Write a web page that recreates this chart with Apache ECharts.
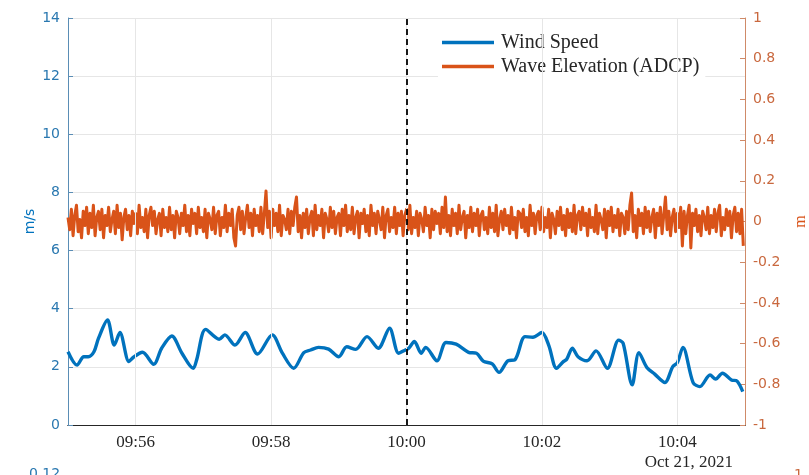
<!DOCTYPE html>
<html><head><meta charset="utf-8">
<script src="https://cdn.jsdelivr.net/npm/echarts@6/dist/echarts.min.js"></script>
<style>html,body{margin:0;padding:0;background:#fff}#c{width:809px;height:475px}</style>
</head><body><div id="c"></div>
<script>
// ---- data ----
const windTimes = ['09:55:00','09:55:08','09:55:14','09:55:18','09:55:23','09:55:27','09:55:35','09:55:41','09:55:46','09:55:54','09:55:58',
'09:56:06','09:56:16','09:56:23','09:56:32','09:56:41','09:56:51','09:56:54','09:57:02','09:57:14','09:57:19','09:57:28','09:57:37','09:57:48',
'09:58:01','09:58:10','09:58:20','09:58:29','09:58:35','09:58:42','09:58:51','09:59:00','09:59:07','09:59:15','09:59:25','09:59:35','09:59:45','09:59:53','09:59:59',
'10:00:02','10:00:07','10:00:13','10:00:17','10:00:27','10:00:35','10:00:44','10:00:55','10:01:02','10:01:08','10:01:16','10:01:22','10:01:30','10:01:36','10:01:45','10:01:52',
'10:02:00','10:02:06','10:02:13','10:02:19','10:02:22','10:02:27','10:02:32','10:02:40','10:02:48','10:02:58','10:03:08','10:03:12','10:03:20','10:03:26','10:03:33','10:03:40','10:03:49','10:03:56',
'10:04:00','10:04:05','10:04:14','10:04:20','10:04:29','10:04:34','10:04:40','10:04:48','10:04:53','10:04:58'];
const windSpeed = [2.52,2.06,2.35,2.35,2.52,2.98,3.61,2.75,3.18,2.18,2.33,
2.50,2.09,2.64,3.06,2.47,1.95,2.24,3.29,2.95,3.10,2.75,3.18,2.44,
3.10,2.47,1.95,2.49,2.58,2.67,2.61,2.35,2.69,2.60,3.04,2.64,3.33,2.47,2.58,
2.64,2.87,2.47,2.67,2.21,2.84,2.78,2.50,2.47,2.20,2.10,1.81,2.21,2.24,3.04,3.02,
3.18,2.75,1.95,2.18,2.26,2.64,2.35,2.21,2.55,1.95,2.92,2.81,1.38,2.49,1.98,1.75,1.46,2.01,
2.14,2.67,1.46,1.32,1.72,1.58,1.78,1.55,1.51,1.15];

const waveStart = '09:55:00';
const waveStepSeconds = 1.5;
const waveElevation = [
0.02,-0.04,0.06,-0.07,0.03,0.08,-0.05,0.01,-0.08,0.05,-0.02,0.07,-0.06,0.04,-0.03,0.08,-0.07,0.02,0.05,-0.04,
0.06,-0.08,0.03,-0.02,0.07,-0.05,0.01,0.05,-0.06,0.08,-0.03,0.04,-0.09,0.02,0.06,-0.04,0.03,-0.07,0.05,-0.01,
0.04,-0.06,0.08,-0.03,0.02,-0.05,0.06,-0.08,0.03,0.07,-0.02,0.05,-0.06,0.01,0.04,-0.07,0.06,-0.03,0.02,-0.05,
0.07,-0.04,0.03,-0.08,0.05,0.02,-0.06,0.04,-0.02,0.08,-0.05,0.03,-0.07,0.06,-0.01,0.04,-0.06,0.07,-0.03,0.02,
-0.05,0.06,-0.08,0.04,0.01,-0.04,0.07,-0.06,0.03,0.05,-0.07,0.02,-0.03,0.08,-0.05,0.04,-0.02,0.06,-0.08,-0.12,
0.03,0.07,-0.04,0.05,-0.06,0.02,0.08,-0.03,0.04,-0.07,0.06,-0.02,0.03,-0.05,0.07,-0.06,0.04,0.15,-0.03,0.05,
-0.08,0.06,-0.02,0.04,-0.05,0.08,-0.07,0.03,0.01,-0.04,0.06,-0.06,0.05,-0.02,0.07,0.12,-0.05,0.03,-0.08,0.04,
-0.03,0.06,-0.06,0.02,0.05,-0.07,0.08,-0.04,0.03,-0.02,0.06,-0.08,0.04,0.01,-0.05,0.07,-0.03,0.05,-0.06,0.02,
0.04,-0.07,0.06,-0.02,0.08,-0.05,0.03,-0.04,0.07,-0.06,0.02,0.05,-0.08,0.04,-0.01,0.06,-0.05,0.03,-0.07,0.08,
-0.02,0.04,-0.06,0.05,0.01,-0.04,0.07,-0.08,0.03,0.06,-0.05,0.02,-0.03,0.07,-0.06,0.04,-0.02,0.05,-0.07,0.03,
0.06,-0.04,0.08,-0.06,0.02,-0.03,0.05,-0.07,0.04,0.01,-0.05,0.07,-0.02,0.03,-0.08,0.06,-0.04,0.05,-0.01,0.04,
-0.06,0.07,-0.03,0.12,-0.05,0.03,-0.07,0.06,-0.02,0.04,-0.06,0.08,-0.04,0.02,0.05,-0.08,0.03,-0.03,0.07,-0.05,
0.04,-0.02,0.06,-0.07,0.03,0.05,-0.04,0.02,-0.06,0.07,-0.03,0.04,-0.05,0.08,-0.07,0.01,0.05,-0.04,0.06,-0.02,
0.03,-0.06,0.07,-0.04,0.02,-0.08,0.05,0.04,-0.03,0.06,-0.05,0.02,-0.07,0.08,-0.02,0.04,-0.06,0.03,0.05,-0.04,
0.07,-0.05,0.02,-0.03,0.06,-0.08,0.04,0.01,-0.06,0.05,-0.02,0.07,-0.04,0.03,-0.07,0.06,-0.03,0.04,-0.05,0.08,
-0.06,0.03,0.05,-0.04,0.07,-0.02,0.04,-0.07,0.06,-0.03,0.02,-0.05,0.08,-0.06,0.04,0.01,-0.04,0.06,-0.08,0.05,
-0.02,0.07,-0.05,0.03,-0.03,0.06,-0.07,0.04,0.02,-0.06,0.05,-0.04,0.08,0.14,-0.05,0.03,-0.08,0.06,-0.02,0.04,
-0.06,0.07,-0.03,0.05,-0.05,0.02,0.06,-0.08,0.04,-0.02,0.07,-0.06,0.03,0.12,-0.04,0.05,-0.07,0.02,0.06,-0.05,
0.04,-0.03,0.07,-0.12,0.05,-0.06,0.03,0.08,-0.13,0.04,-0.02,0.06,-0.05,0.03,-0.07,0.05,0.02,-0.04,0.07,-0.06,
0.03,-0.03,0.06,-0.05,0.04,0.08,-0.07,0.02,-0.04,0.06,-0.02,0.05,-0.08,0.03,0.07,-0.05,0.04,-0.06,0.06,-0.12];

const xRange = ['09:55:00','10:05:00'];
const xTickLabels = ['09:56','09:58','10:00','10:02','10:04'];
const eventTime = '10:00:00';
const dateLabel = 'Oct 21, 2021';
const seriesNames = ['Wind Speed','Wave Elevation (ADCP)'];
const leftAxisName = 'm/s';
const rightAxisName = 'm';
const cutOffLabels = ['0.12','1'];

// ---- helpers ----
function toSec(s){const p=s.split(':').map(Number);return p[0]*3600+p[1]*60+(p[2]||0);}
const tickSecs = xTickLabels.map(toSec);
const windData = windTimes.map((t,i)=>[toSec(t),windSpeed[i]]);
const w0 = toSec(waveStart);
const waveData = waveElevation.map((v,i)=>[w0+i*waveStepSeconds,v]);

const BLUE='#0072BD', ORANGE='#D95319';
const serif='Liberation Serif', sans='DejaVu Sans';

const chart = echarts.init(document.getElementById('c'),null,{renderer:'canvas'});
chart.setOption({
  animation:false,
  backgroundColor:'#fff',
  grid:{left:68,right:64,top:18,bottom:50,containLabel:false,outerBoundsMode:'none'},
  legend:{
    data:seriesNames, orient:'vertical', left:438, top:29, icon:'rect',
    itemWidth:52, itemHeight:3.5, itemGap:3,
    backgroundColor:'#fff', padding:[3,6,3,4],
    textStyle:{fontFamily:serif,fontSize:20,color:'#262626',lineHeight:21,padding:[0,0,0,2]}
  },
  xAxis:[{
    type:'value', min:toSec(xRange[0]), max:toSec(xRange[1]),
    axisLine:{show:true,onZero:false,lineStyle:{color:'#262626'}},
    axisTick:{show:true,inside:true,length:5,customValues:tickSecs,lineStyle:{color:'#262626'}},
    axisLabel:{customValues:tickSecs,margin:9,fontFamily:serif,fontSize:17,color:'#262626',
      formatter:v=>{const i=tickSecs.indexOf(v);return i>=0?xTickLabels[i]:'';}},
    splitLine:{show:false}
  },{
    type:'value', position:'top', min:toSec(xRange[0]), max:toSec(xRange[1]),
    axisLine:{show:true,lineStyle:{color:'#262626'}},axisTick:{show:false},axisLabel:{show:false},splitLine:{show:false}
  }],
  yAxis:[{
    type:'value', min:0, max:14, interval:2, position:'left',
    name:leftAxisName, nameLocation:'middle', nameGap:31, nameRotate:90, nameMoveOverlap:false,
    nameTextStyle:{fontFamily:sans,fontSize:14,color:BLUE},
    axisLine:{show:true,lineStyle:{color:'#5a8db5'}},
    axisTick:{show:true,inside:true,length:5,lineStyle:{color:'#5a8db5'}},
    axisLabel:{margin:8,fontFamily:sans,fontSize:14,color:'#2a78b0'},
    splitLine:{show:true,lineStyle:{color:'#e6e6e6',width:1}}
  },{
    type:'value', min:-1, max:1, interval:0.2, position:'right',
    name:rightAxisName, nameLocation:'middle', nameGap:48, nameRotate:90, nameMoveOverlap:false,
    nameTextStyle:{fontFamily:serif,fontSize:16,color:ORANGE},
    axisLine:{show:true,lineStyle:{color:'#cf8a68'}},
    axisTick:{show:true,inside:true,length:5,lineStyle:{color:'#cf8a68'}},
    axisLabel:{margin:8,fontFamily:sans,fontSize:14,color:'#c9683e',
      formatter:v=>String(Math.round(v*10)/10)},
    splitLine:{show:false}
  }],
  graphic:[
    {type:'text',right:76,top:454,style:{text:dateLabel,font:'17px "Liberation Serif"',fill:'#262626'}},
    {type:'text',left:29,top:467,style:{text:cutOffLabels[0],font:'14px "DejaVu Sans"',fill:'#2a78b0'}},
    {type:'text',left:794,top:468,style:{text:cutOffLabels[1],font:'14px "DejaVu Sans"',fill:'#c9683e'}}
  ],
  series:[
    {name:'_grid',type:'line',data:[],z:1,silent:true,
     markLine:{silent:true,symbol:'none',label:{show:false},animation:false,
       lineStyle:{color:'#e6e6e6',width:1,type:'solid'},
       data:tickSecs.map(s=>({xAxis:s}))}},
    {name:seriesNames[1],type:'line',yAxisIndex:1,data:waveData,showSymbol:false,z:2,
     lineStyle:{color:ORANGE,width:3,join:'round'},itemStyle:{color:ORANGE}},
    {name:seriesNames[0],type:'line',yAxisIndex:0,data:windData,showSymbol:false,smooth:0.3,z:3,
     lineStyle:{color:BLUE,width:3.4},itemStyle:{color:BLUE}},
    {name:'_event',type:'line',data:[],z:4,silent:true,
     markLine:{silent:true,symbol:'none',label:{show:false},animation:false,
       lineStyle:{color:'#000',width:1.8,type:[6,4]},
       data:[{xAxis:toSec(eventTime)}]}}
  ]
});
</script></body></html>
